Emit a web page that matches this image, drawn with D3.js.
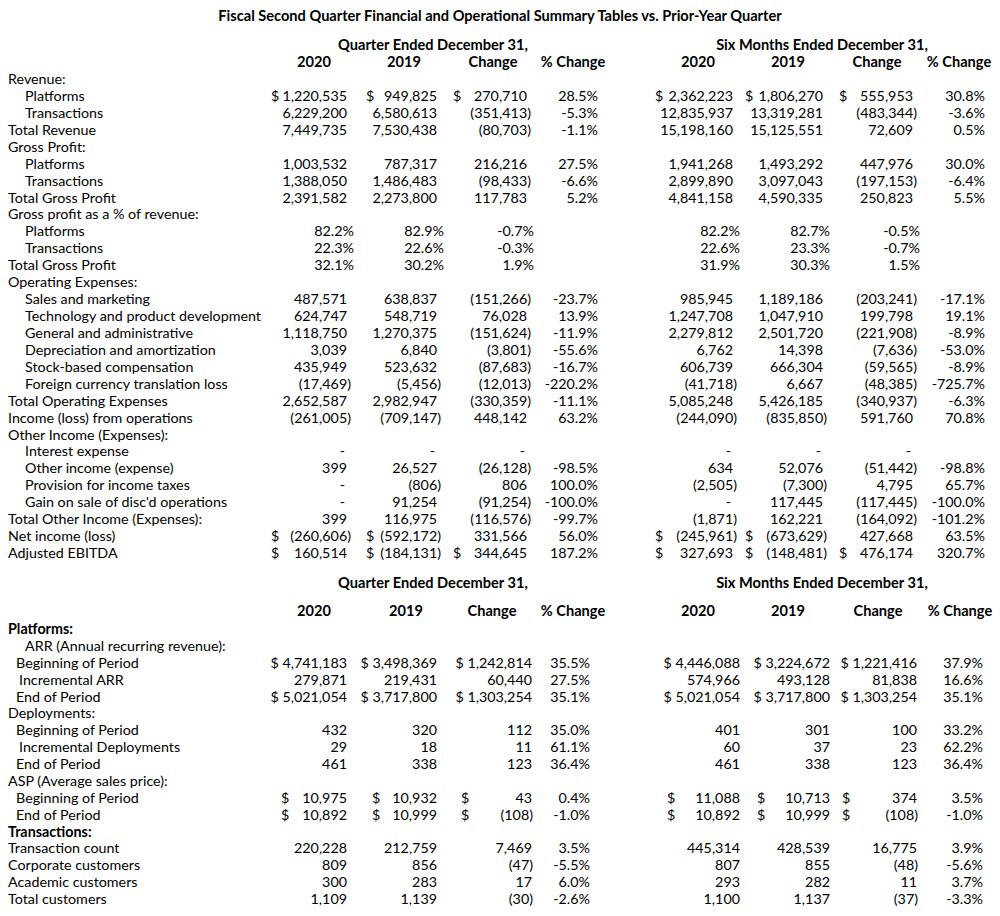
<!DOCTYPE html>
<html>
<head>
<meta charset="utf-8">
<script src="https://cdn.jsdelivr.net/npm/d3@7"></script>
<style>
	body { margin: 0; background: #fff; }
	svg text { font-family: Lato, 'Noto Sans', sans-serif; font-size: 14.3px; fill: #000; }
	.bold { font-weight: bold; }
</style>
</head>
<body>
<svg id="summary"></svg>
<script>
// column keys shared by both tables
const colKeys = ['q2020', 'q2019', 'qChg', 'qPct', 's2020', 's2019', 'sChg', 'sPct']
const colTitles = ['2020', '2019', 'Change', '% Change', '2020', '2019', 'Change', '% Change']
const groupTitles = ['Quarter Ended December 31,', 'Six Months Ended December 31,']

// ---- table 1: financial summary ----
const t1Labels = [
	'Revenue:', 'Platforms', 'Transactions', 'Total Revenue',
	'Gross Profit:', 'Platforms', 'Transactions', 'Total Gross Profit',
	'Gross profit as a % of revenue:', 'Platforms', 'Transactions', 'Total Gross Profit',
	'Operating Expenses:', 'Sales and marketing', 'Technology and product development',
	'General and administrative', 'Depreciation and amortization', 'Stock-based compensation',
	'Foreign currency translation loss', 'Total Operating Expenses', 'Income (loss) from operations',
	'Other Income (Expenses):', 'Interest expense', 'Other income (expense)',
	'Provision for income taxes', "Gain on sale of disc'd operations",
	'Total Other Income (Expenses):', 'Net income (loss)', 'Adjusted EBITDA'
]
const t1Indent = [0, 1, 1, 0, 0, 1, 1, 0, 0, 1, 1, 0, 0, 1, 1, 1, 1, 1, 1, 0, 0, 0, 1, 1, 1, 1, 0, 0, 0]
const t1PctRows = [9, 10, 11]

const t1q2020 = [null, 1220535, 6229200, 7449735, null, 1003532, 1388050, 2391582, null, 82.2, 22.3, 32.1, null, 487571, 624747, 1118750, 3039, 435949, -17469, 2652587, -261005, null, 0, 399, 0, 0, 399, -260606, 160514]
const t1q2019 = [null, 949825, 6580613, 7530438, null, 787317, 1486483, 2273800, null, 82.9, 22.6, 30.2, null, 638837, 548719, 1270375, 6840, 523632, -5456, 2982947, -709147, null, 0, 26527, -806, 91254, 116975, -592172, -184131]
const t1qChg = [null, 270710, -351413, -80703, null, 216216, -98433, 117783, null, -0.7, -0.3, 1.9, null, -151266, 76028, -151624, -3801, -87683, -12013, -330359, 448142, null, 0, -26128, 806, -91254, -116576, 331566, 344645]
const t1qPct = [null, 28.5, -5.3, -1.1, null, 27.5, -6.6, 5.2, null, null, null, null, null, -23.7, 13.9, -11.9, -55.6, -16.7, -220.2, -11.1, 63.2, null, null, -98.5, 100.0, -100.0, -99.7, 56.0, 187.2]
const t1s2020 = [null, 2362223, 12835937, 15198160, null, 1941268, 2899890, 4841158, null, 82.2, 22.6, 31.9, null, 985945, 1247708, 2279812, 6762, 606739, -41718, 5085248, -244090, null, 0, 634, -2505, 0, -1871, -245961, 327693]
const t1s2019 = [null, 1806270, 13319281, 15125551, null, 1493292, 3097043, 4590335, null, 82.7, 23.3, 30.3, null, 1189186, 1047910, 2501720, 14398, 666304, 6667, 5426185, -835850, null, 0, 52076, -7300, 117445, 162221, -673629, -148481]
const t1sChg = [null, 555953, -483344, 72609, null, 447976, -197153, 250823, null, -0.5, -0.7, 1.5, null, -203241, 199798, -221908, -7636, -59565, -48385, -340937, 591760, null, 0, -51442, 4795, -117445, -164092, 427668, 476174]
const t1sPct = [null, 30.8, -3.6, 0.5, null, 30.0, -6.4, 5.5, null, null, null, null, null, -17.1, 19.1, -8.9, -53.0, -8.9, -725.7, -6.3, 70.8, null, null, -98.8, 65.7, -100.0, -101.2, 63.5, 320.7]
// rows with a currency sign, and in which columns
const t1Dollars = [
	{ row: 1, cols: ['q2020', 'q2019', 'qChg', 's2020', 's2019', 'sChg'] },
	{ row: 27, cols: ['q2020', 'q2019', 's2020', 's2019'] },
	{ row: 28, cols: ['q2020', 'q2019', 'qChg', 's2020', 's2019', 'sChg'] }
]

// ---- table 2: operational summary ----
const t2Labels = [
	'Platforms:', 'ARR (Annual recurring revenue):', 'Beginning of Period', 'Incremental ARR', 'End of Period',
	'Deployments:', 'Beginning of Period', 'Incremental Deployments', 'End of Period',
	'ASP (Average sales price):', 'Beginning of Period', 'End of Period',
	'Transactions:', 'Transaction count', 'Corporate customers', 'Academic customers', 'Total customers'
]
const t2Indent = [0, 3, 1, 2, 1, 0, 1, 2, 1, 0, 1, 1, 0, 0, 0, 0, 0]
const t2BoldRows = [0, 12]

const t2q2020 = [null, null, 4741183, 279871, 5021054, null, 432, 29, 461, null, 10975, 10892, null, 220228, 809, 300, 1109]
const t2q2019 = [null, null, 3498369, 219431, 3717800, null, 320, 18, 338, null, 10932, 10999, null, 212759, 856, 283, 1139]
const t2qChg = [null, null, 1242814, 60440, 1303254, null, 112, 11, 123, null, 43, -108, null, 7469, -47, 17, -30]
const t2qPct = [null, null, 35.5, 27.5, 35.1, null, 35.0, 61.1, 36.4, null, 0.4, -1.0, null, 3.5, -5.5, 6.0, -2.6]
const t2s2020 = [null, null, 4446088, 574966, 5021054, null, 401, 60, 461, null, 11088, 10892, null, 445314, 807, 293, 1100]
const t2s2019 = [null, null, 3224672, 493128, 3717800, null, 301, 37, 338, null, 10713, 10999, null, 428539, 855, 282, 1137]
const t2sChg = [null, null, 1221416, 81838, 1303254, null, 100, 23, 123, null, 374, -108, null, 16775, -48, 11, -37]
const t2sPct = [null, null, 37.9, 16.6, 35.1, null, 33.2, 62.2, 36.4, null, 3.5, -1.0, null, 3.9, -5.6, 3.7, -3.3]
const t2AttachedDollarRows = [2, 4]
const t2SpacedDollarRows = [10, 11]

function summaryTables() {
	const width = 1000
	const height = 916

	const svg = d3.select('#summary').attr('width', width).attr('height', height)

	const comma = d3.format(',')
	const oneDec = d3.format('.1f')
	const money = v => (v < 0 ? '(' + comma(-v) + ')' : comma(v))
	const pct = v => (v < 0 ? '-' : '') + oneDec(Math.abs(v)) + '%'

	const indentX = d3.scaleOrdinal().domain([0, 1, 2, 3]).range([8, 16, 19, 25])

	svg
		.append('text')
		.attr('class', 'bold')
		.attr('x', width / 2)
		.attr('y', 16)
		.attr('dy', '0.35em')
		.attr('text-anchor', 'middle')
		.style('font-size', '14.6px')
		.text('Fiscal Second Quarter Financial and Operational Summary Tables vs. Prior-Year Quarter')

	function headers(groupY, colY, colCenters) {
		const xHead = d3.scaleOrdinal().domain(colKeys).range(colCenters)
		svg
			.append('g')
			.selectAll('text')
			.data(groupTitles)
			.join('text')
			.attr('class', 'bold')
			.attr('x', (d, i) => (i === 0 ? 433 : 822))
			.attr('y', groupY)
			.attr('dy', '0.35em')
			.attr('text-anchor', 'middle')
			.style('font-size', '14.6px')
			.text(d => d)
		svg
			.append('g')
			.selectAll('text')
			.data(colKeys)
			.join('text')
			.attr('class', 'bold')
			.attr('x', d => xHead(d))
			.attr('y', colY)
			.attr('dy', '0.35em')
			.attr('text-anchor', 'middle')
			.style('font-size', '14.6px')
			.text((d, i) => colTitles[i])
	}

	// ---------- table 1 ----------
	headers(45, 62, [314, 404, 493, 573, 698, 788, 877, 959])

	const y1 = d3.scaleLinear().domain([0, t1Labels.length - 1]).range([79, 553])
	const x1 = d3.scaleOrdinal().domain(colKeys).range([347, 437, 527, 598, 733, 823, 913, 985])
	const x1Dollar = d3.scaleOrdinal().domain(['q2020', 'q2019', 'qChg', 's2020', 's2019', 'sChg']).range([271, 366, 453, 655, 745, 839])
	const t1Cols = {
		q2020: t1q2020, q2019: t1q2019, qChg: t1qChg, qPct: t1qPct,
		s2020: t1s2020, s2019: t1s2019, sChg: t1sChg, sPct: t1sPct
	}

	svg
		.append('g')
		.selectAll('text')
		.data(t1Labels)
		.join('text')
		.attr('x', (d, i) => indentX(t1Indent[i] ? 3 : 0))
		.attr('y', (d, i) => y1(i))
		.attr('dy', '0.35em')
		.text(d => d)

	const t1Cells = []
	colKeys.forEach(k => {
		t1Cols[k].forEach((v, i) => {
			if (v === null) return
			const isPctCol = k.endsWith('Pct')
			const isPctRow = t1PctRows.includes(i)
			let txt, shift = 0
			if (isPctCol) {
				txt = pct(v)
			} else if (isPctRow) {
				txt = pct(v)
				shift = 7
			} else if (v === 0) {
				txt = '-'
				shift = -2
			} else {
				txt = money(v)
				shift = v < 0 ? 4 : 0
			}
			t1Cells.push({ col: k, row: i, txt, shift })
		})
	})

	svg
		.append('g')
		.selectAll('text')
		.data(t1Cells)
		.join('text')
		.attr('x', d => x1(d.col) + d.shift)
		.attr('y', d => y1(d.row))
		.attr('dy', '0.35em')
		.attr('text-anchor', 'end')
		.text(d => d.txt)

	const t1DollarCells = t1Dollars.flatMap(d => d.cols.map(c => ({ row: d.row, col: c })))
	svg
		.append('g')
		.selectAll('text')
		.data(t1DollarCells)
		.join('text')
		.attr('x', d => x1Dollar(d.col))
		.attr('y', d => y1(d.row))
		.attr('dy', '0.35em')
		.text('$')

	// ---------- table 2 ----------
	headers(583, 611, [314, 406, 492, 573, 698, 788, 878, 960])

	const y2 = d3.scaleLinear().domain([0, t2Labels.length - 1]).range([629, 899])
	const x2 = d3.scaleOrdinal().domain(colKeys).range([347, 437, 532, 590, 740, 830, 917, 983])
	const x2Dollar = d3.scaleOrdinal().domain(['q2020', 'q2019', 'qChg', 's2020', 's2019', 'sChg']).range([281, 372, 461, 667, 757, 842])
	const t2Cols = {
		q2020: t2q2020, q2019: t2q2019, qChg: t2qChg, qPct: t2qPct,
		s2020: t2s2020, s2019: t2s2019, sChg: t2sChg, sPct: t2sPct
	}

	svg
		.append('g')
		.selectAll('text')
		.data(t2Labels)
		.join('text')
		.attr('class', (d, i) => (t2BoldRows.includes(i) ? 'bold' : null))
		.attr('x', (d, i) => indentX(t2Indent[i]))
		.attr('y', (d, i) => y2(i))
		.attr('dy', '0.35em')
		.text(d => d)

	const t2Cells = []
	colKeys.forEach(k => {
		t2Cols[k].forEach((v, i) => {
			if (v === null) return
			const isPctCol = k.endsWith('Pct')
			let txt = isPctCol ? pct(v) : money(v)
			if (!isPctCol && t2AttachedDollarRows.includes(i)) txt = '$ ' + txt
			t2Cells.push({ col: k, row: i, txt, shift: !isPctCol && v < 0 ? 1 : 0 })
		})
	})

	svg
		.append('g')
		.selectAll('text')
		.data(t2Cells)
		.join('text')
		.attr('x', d => x2(d.col) + d.shift)
		.attr('y', d => y2(d.row))
		.attr('dy', '0.35em')
		.attr('text-anchor', 'end')
		.text(d => d.txt)

	const t2DollarCells = t2SpacedDollarRows.flatMap(r =>
		['q2020', 'q2019', 'qChg', 's2020', 's2019', 'sChg'].map(c => ({ row: r, col: c }))
	)
	svg
		.append('g')
		.selectAll('text')
		.data(t2DollarCells)
		.join('text')
		.attr('x', d => x2Dollar(d.col))
		.attr('y', d => y2(d.row))
		.attr('dy', '0.35em')
		.text('$')
}

summaryTables()
</script>
</body>
</html>
